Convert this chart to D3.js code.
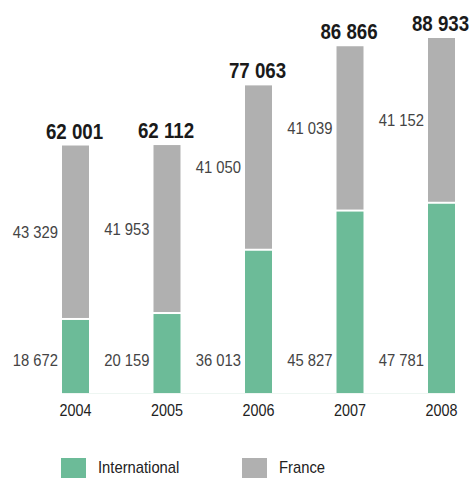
<!DOCTYPE html>
<html>
<head>
<meta charset="utf-8">
<script src="https://cdn.jsdelivr.net/npm/d3@7"></script>
<style>
  body { margin: 0; background: #fff; }
  text { font-family: "Liberation Sans", Arial, sans-serif; }
</style>
</head>
<body>
<div id="chart"></div>
<script>
var years = ['2004', '2005', '2006', '2007', '2008'];
var international = [18672, 20159, 36013, 45827, 47781];
var france = [43329, 41953, 41050, 41039, 41152];
var totals = [62001, 62112, 77063, 86866, 88933];
var seriesNames = ['International', 'France'];

const width = 475,
    height = 478,
    colors = ['#6cbb98', '#b0b0b0'],
    squeeze = 0.87; // condensed look, no narrow face installed

const fmt = function(v) { return d3.format(',')(v).replace(/,/g, ' '); };

// place a text at (px, py) and squeeze it horizontally
function place(sel, px, py) {
    sel.attr('transform', function(d, i) {
        var tx = typeof px === 'function' ? px(d, i) : px;
        var ty = typeof py === 'function' ? py(d, i) : py;
        return 'translate(' + tx + ',' + ty + ') scale(' + squeeze + ',1)';
    });
    return sel;
}

const svg = d3.select('#chart').append('svg')
    .attr('width', width)
    .attr('height', height);

var x = d3.scaleBand()
    .domain(years)
    .range([62, 455])
    .paddingInner(0.705)
    .paddingOuter(0);

var y = d3.scaleLinear()
    .domain([0, 88933])
    .range([393, 38]);

var rows = years.map(function(yr, i) {
    return { year: yr, intl: international[i], fr: france[i], total: totals[i] };
});

// faint baseline
svg.append('line')
    .attr('x1', x.range()[0]).attr('x2', x.range()[1])
    .attr('y1', y(0) + 0.5).attr('y2', y(0) + 0.5)
    .attr('stroke', '#eef6f2');

var bars = svg.append('g').selectAll('g')
    .data(rows)
    .enter().append('g');

// France (top)
bars.append('rect')
    .attr('x', function(d) { return x(d.year); })
    .attr('width', x.bandwidth())
    .attr('y', function(d) { return y(d.intl + d.fr); })
    .attr('height', function(d) { return y(d.intl) - y(d.intl + d.fr) - 0.5; })
    .attr('fill', colors[1]);

// International (bottom)
bars.append('rect')
    .attr('x', function(d) { return x(d.year); })
    .attr('width', x.bandwidth())
    .attr('y', function(d) { return y(d.intl) + 1.5; })
    .attr('height', function(d) { return y(0) - y(d.intl) - 1.5; })
    .attr('fill', colors[0]);

// value labels
place(bars.append('text'),
        function(d) { return x(d.year) - 4; },
        function(d) { return (y(d.intl + d.fr) + y(d.intl)) / 2; })
    .attr('dy', '0.35em')
    .attr('text-anchor', 'end')
    .attr('font-size', 17)
    .attr('fill', '#444')
    .text(function(d) { return fmt(d.fr); });

place(bars.append('text'),
        function(d) { return x(d.year) - 4; },
        y(0) - 33)
    .attr('dy', '0.35em')
    .attr('text-anchor', 'end')
    .attr('font-size', 17)
    .attr('fill', '#444')
    .text(function(d) { return fmt(d.intl); });

// totals
place(bars.append('text'),
        function(d) { return x(d.year) + x.bandwidth() / 2 - 1; },
        function(d) { return y(d.total) - 7; })
    .attr('text-anchor', 'middle')
    .attr('font-size', 21.5)
    .attr('font-weight', 'bold')
    .attr('fill', '#1a1a1a')
    .text(function(d) { return fmt(d.total); });

// year labels
place(bars.append('text'),
        function(d) { return x(d.year) + x.bandwidth() / 2; },
        416)
    .attr('text-anchor', 'middle')
    .attr('font-size', 16.5)
    .attr('fill', '#222')
    .text(function(d) { return d.year; });

// legend
var legend = svg.append('g')
    .attr('transform', 'translate(61, 458)');

var items = legend.selectAll('g')
    .data(seriesNames)
    .enter().append('g')
    .attr('transform', function(d, i) { return 'translate(' + (i * 181) + ',0)'; });

items.append('rect')
    .attr('width', 25)
    .attr('height', 20)
    .attr('fill', function(d, i) { return colors[i]; });

place(items.append('text'), 37, 15)
    .attr('font-size', 17)
    .attr('fill', '#222')
    .text(function(d) { return d; });
</script>
</body>
</html>
